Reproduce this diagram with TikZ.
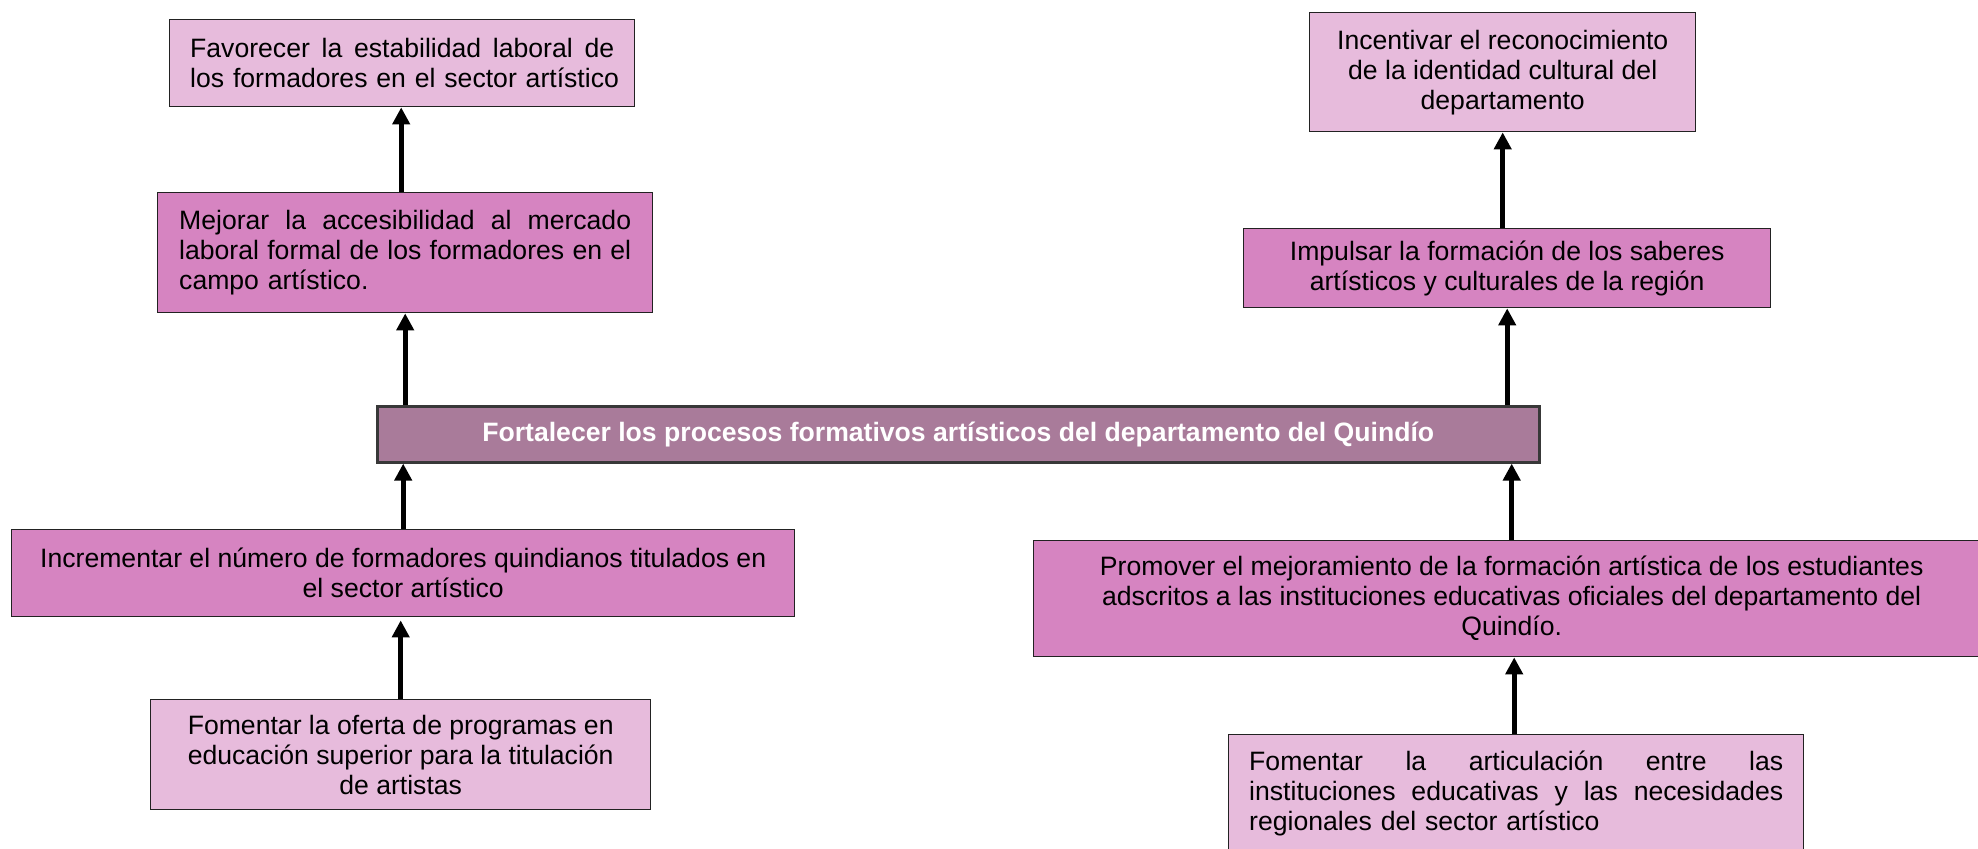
\documentclass[tikz,border=0pt]{standalone}
\usepackage{fontspec}
\setmainfont{Liberation Sans}
\usetikzlibrary{arrows.meta}
\definecolor{lightpk}{HTML}{E7BBDC}
\definecolor{midpk}{HTML}{D684C1}
\definecolor{mauve}{HTML}{A97B9A}
\definecolor{edge}{HTML}{222222}
\tikzset{
  box/.style={draw=edge, line width=0.7pt, anchor=north west, inner sep=0pt,
    font=\fontsize{13.3}{15}\selectfont, align=center},
  light/.style={box, fill=lightpk},
  mid/.style={box, fill=midpk},
  main/.style={box, fill=mauve, draw=edge!90, line width=1.3pt, text=white,
    font=\fontsize{13.3}{15}\selectfont\bfseries},
  arr/.style={line width=2.5pt, -{Triangle[length=8.5pt,width=8.5pt]}}
}
\begin{document}
\begin{tikzpicture}[x=0.5pt,y=-0.5pt]
\clip (0,0) rectangle (1978,849);
\fill[white] (0,0) rectangle (1978,849);
% boxes
\node[light, minimum width=232.5pt, minimum height=43.5pt, text width=212pt, align=left] (A) at (169,19)
  {\makebox[212pt]{Favorecer\hfill la\hfill estabilidad\hfill laboral\hfill de}\\\makebox[212pt][l]{los formadores en el sector artístico}};
\node[mid, minimum width=247.5pt, minimum height=60pt, text width=226pt, align=left] (B) at (157,192)
  {\makebox[226pt]{Mejorar\hfill la\hfill accesibilidad\hfill al\hfill mercado}\\\makebox[226pt]{laboral\hfill formal\hfill de\hfill los\hfill formadores\hfill en\hfill el}\\campo artístico.};
\node[light, minimum width=193pt, minimum height=59.5pt] (C) at (1309,12)
  {Incentivar el reconocimiento\\de la identidad cultural del\\departamento};
\node[mid, minimum width=263.5pt, minimum height=39.5pt] (D) at (1243,228)
  {Impulsar la formación de los saberes\\artísticos y culturales de la región};
\node[main, minimum width=581pt, minimum height=28pt] (M) at (376,405)
  {Fortalecer los procesos formativos artísticos del departamento del Quindío};
\node[mid, minimum width=391.5pt, minimum height=43.5pt] (E) at (11,529)
  {Incrementar el número de formadores quindianos titulados en\\el sector artístico};
\node[light, minimum width=250pt, minimum height=55pt] (F) at (150,699)
  {Fomentar la oferta de programas en\\educación superior para la titulación\\de artistas};
\node[mid, minimum width=478pt, minimum height=58pt] (G) at (1033,540)
  {Promover el mejoramiento de la formación artística de los estudiantes\\adscritos a las instituciones educativas oficiales del departamento del\\Quindío.};
\node[light, minimum width=287.5pt, minimum height=59pt, text width=267pt, align=left] (H) at (1228,734)
  {\makebox[267pt]{Fomentar\hfill la\hfill articulación\hfill entre\hfill las}\\\makebox[267pt]{instituciones\hfill educativas\hfill y\hfill las\hfill necesidades}\\regionales del sector artístico};
% arrows
\draw[arr] ([xshift=-2pt]B.north) -- ([xshift=-2pt]B.north |- A.south);
\draw[arr] (M.north -| B.south) -- (B.south);
\draw[arr] (E.north) -- (E.north |- M.south);
\draw[arr] (F.north) -- ([yshift=-1.5pt]F.north |- E.south);
\draw[arr] (D.north -| C.south) -- (C.south);
\draw[arr] (M.north -| D.south) -- (D.south);
\draw[arr] (G.north) -- (G.north |- M.south);
\draw[arr] ([xshift=-1pt]H.north) -- ([xshift=-1pt]H.north |- G.south);
\end{tikzpicture}
\end{document}
